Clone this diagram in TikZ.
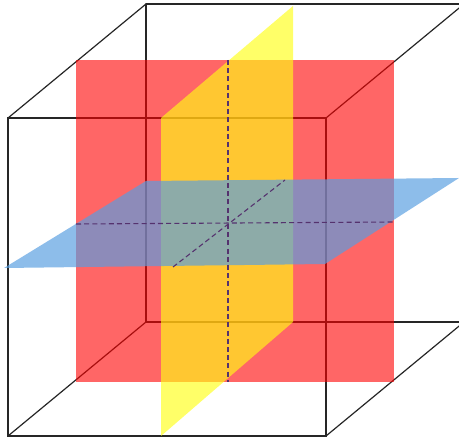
\documentclass[tikz,border=0pt]{standalone}
\definecolor{redp}{RGB}{255,0,0}
\definecolor{yelp}{RGB}{255,255,20}
\definecolor{blup}{RGB}{88,158,225}
\definecolor{dashc}{RGB}{85,50,110}
\tikzset{
  edgeline/.style={draw=black!85,line width=1.2pt,line cap=round},
  redplane/.style={fill=redp,fill opacity=.6},
  yellowplane/.style={fill=yelp,fill opacity=.64},
  blueplane/.style={fill=blup,fill opacity=.68},
  axisline/.style={draw=dashc,line width=1.1pt,dash pattern=on 5pt off 3.2pt},
}
\begin{document}
\begin{tikzpicture}[x=1pt,y=-1pt]
\useasboundingbox (0,0) rectangle (459,438);
\clip (0,0) rectangle (459,438);
\fill[white] (0,0) rectangle (459,438);
% cube corners
\coordinate (ftl) at (8,118);
\coordinate (ftr) at (326,118);
\coordinate (fbl) at (8,436);
\coordinate (fbr) at (326,436);
\coordinate (btl) at (146,4);
\coordinate (btr) at (464,4);
\coordinate (bbl) at (146,322);
\coordinate (bbr) at (464,322);
% plane corners
\coordinate (r1) at (76,60);
\coordinate (r2) at (394,382);
\coordinate (y1) at (161,118);
\coordinate (y2) at (293,6);
\coordinate (y3) at (293,322);
\coordinate (y4) at (161,436);
\coordinate (b1) at (4,268);
\coordinate (b2) at (146,181);
\coordinate (b3) at (459,178);
\coordinate (b4) at (325,264);
% axis ends
\coordinate (v1) at (228,60);
\coordinate (v2) at (228,382);
\coordinate (h1) at (76,224);
\coordinate (h2) at (394,222);
\coordinate (d1) at (173,267);
\coordinate (d2) at (285,180);
% cube
\draw[edgeline] (ftl) rectangle (fbr);
\draw[edgeline] (btl) -- (btr);
\draw[edgeline] (bbr) -- (bbl) -- (btl);
\draw[edgeline] (ftl) -- (btl);
\draw[edgeline] (ftr) -- (btr);
\draw[edgeline] (fbl) -- (bbl);
\draw[edgeline] (fbr) -- (bbr);
% planes
\path[redplane] (r1) rectangle (r2);
\path[yellowplane] (y1) -- (y2) -- (y3) -- (y4) -- cycle;
\path[blueplane] (b1) -- (b2) -- (b3) -- (b4) -- cycle;
% axes
\draw[axisline] (v1) -- (v2);
\draw[axisline] (h1) -- (h2);
\draw[axisline] (d1) -- (d2);
\end{tikzpicture}
\end{document}
